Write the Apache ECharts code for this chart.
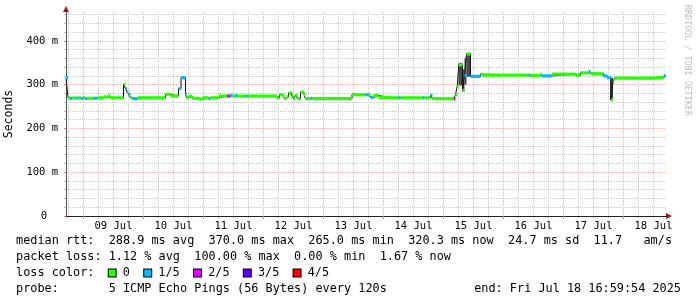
<!DOCTYPE html>
<html><head><meta charset="utf-8">
<script src="https://cdn.jsdelivr.net/npm/echarts@6/dist/echarts.min.js"></script>
<style>html,body{margin:0;padding:0;background:#fff}#c{width:697px;height:297px}</style>
</head><body><div id="c"></div>
<script>
// time axis: hours since 2025-07-08 00:00
const tStart = 17, tEnd = 257;
const dayLabels = ['09 Jul','10 Jul','11 Jul','12 Jul','13 Jul','14 Jul','15 Jul','16 Jul','17 Jul','18 Jul'];
const dayLabelHours = [36,60,84,108,132,156,180,204,228,252];
const midnightHours = [24,48,72,96,120,144,168,192,216,240];
const yTickValues = [0,100,200,300,400];
const yTickLabels = ['0','100 m','200 m','300 m','400 m'];
const yMax = 466;

// median rtt (ms) as step segments: start hour, value, loss level (0..4 of 5)
const segT = [17.0,17.8,18.6,19.6,20.8,21.6,22.8,24.0,24.8,25.6,28.0,29.6,32.0,34.0,34.6,35.2,37.6,38.0,
  40.0,40.8,41.4,42.0,42.8,43.6,45.6,56.8,58.8,62.0,63.0,64.8,65.2,66.2,67.4,70.4,71.6,74.0,74.8,78.0,
  81.4,82.8,83.6,84.8,85.6,88.8,89.6,101.2,102.4,103.8,104.4,105.2,106.0,107.2,108.0,108.8,109.6,110.8,
  112.2,112.8,114.8,115.6,131.4,132.0,136.8,138.0,138.8,140.0,142.0,146.8,150.0,150.8,159.6,160.4,162.8,
  163.6,172.0,172.8,173.5,174.1,175.6,176.4,177.2,178.8,182.8,183.6,202.0,202.8,206.8,207.4,211.4,220.8,
  222.8,226.0,226.8,232.0,233.4,235.0,235.8,236.4,252.8,256.0];
const segMed = [316,270,269,270,269,270,269,270,268,269,269,270,272,276,271,270,273,270,
  301,291,283,278,270,268,270,278,274,291,316,280,271,274,269,267,270,268,270,274,
  274,276,274,275,274,274,274,270,277,274,268,272,281,275,268,276,268,283,
  277,268,269,268,278,277,277,277,271,275,271,270,270,270,270,270,276,
  268,268,277,297,345,287,321,370,319,324,322,322,321,324,320,324,322,
  327,330,325,320,316,265,306,315,316,320];
const segLoss = [1,0,1,0,1,0,1,0,1,0,1,0,0,0,0,0,0,0,
  0,1,0,1,0,1,0,0,0,1,1,1,0,0,0,0,0,1,0,0,
  2,1,0,1,0,1,0,0,0,0,0,0,0,0,0,0,0,0,
  0,0,1,0,0,0,1,0,1,0,0,0,1,0,1,0,1,
  0,2,0,0,0,0,1,0,1,0,0,1,0,0,1,0,0,
  0,1,0,1,1,0,0,0,0,1];

// smoke (spread of the pings) for the noisy intervals
const smokeT0 = [174.0,175.6,176.4,177.2,234.6];
const smokeT1 = [175.6,176.4,177.2,178.8,235.8];
const smokeLo = [298,284,300,318,264];
const smokeHi = [350,335,360,372,316];

const lossColors = ['#26ff00','#00b8ff','#dd00ff','#5e00ff','#ff0000'];
const lossNames = ['0','1/5','2/5','3/5','4/5'];

const statLine1 = 'median rtt:  288.9 ms avg  370.0 ms max  265.0 ms min  320.3 ms now  24.7 ms sd  11.7   am/s';
const statLine2 = 'packet loss: 1.12 % avg  100.00 % max  0.00 % min  1.67 % now';
const probeLine = 'probe:       5 ICMP Echo Pings (56 Bytes) every 120s';
const endLine = 'end: Fri Jul 18 16:59:54 2025';

const FONT = 'DejaVu Sans Mono';
const FS = 11.85;
const minorX = []; for (let h = 18; h < tEnd; h += 6) if (h % 24 !== 0) minorX.push(h);
const minorY = []; for (let v = 20; v < yMax; v += 20) if (v % 100 !== 0) minorY.push(v);

const bandData = segT.map((t, i) => [t, i + 1 < segT.length ? segT[i + 1] : tEnd, segMed[i], segLoss[i]]);
const stepData = [];
bandData.forEach(d => { stepData.push([d[0], d[2]]); stepData.push([d[1], d[2]]); });
const smokeData = smokeT0.map((t, i) => [t, smokeT1[i], smokeLo[i], smokeHi[i]]);

let lossRich = {}; let lossText = 'loss color:  ';
lossNames.forEach((n, i) => {
  lossRich['s' + i] = {width: 7, height: 7, backgroundColor: lossColors[i], borderColor: '#000', borderWidth: 1};
  lossText += '{s' + i + '| }{t| ' + n + '  }';
});
lossRich.t = {fontFamily: FONT, fontSize: FS, fill: '#000', color: '#000'};

const chart = echarts.init(document.getElementById('c'), null, {renderer: 'canvas'});
chart.setOption({
  backgroundColor: '#fff',
  animation: false,
  grid: {left: 66, right: 31, top: 12, bottom: 81, containLabel: false, outerBoundsMode: 'none'},
  xAxis: [
    {type: 'value', min: tStart, max: tEnd, position: 'bottom', z: 1,
     axisLine: {show: true, onZero: false, lineStyle: {color: '#222', width: 1}},
     axisTick: {show: true, customValues: midnightHours, length: 3, lineStyle: {color: '#e08080'}},
     axisLabel: {show: true, customValues: dayLabelHours, margin: 5, fontFamily: FONT, fontSize: 10.5, color: '#000',
       formatter: v => dayLabels[dayLabelHours.indexOf(Math.round(v))]},
     splitLine: {show: true, lineStyle: {color: '#eeb4b4', type: [1, 1], width: 1}}},
    {type: 'value', min: tStart, max: tEnd, position: 'bottom', z: 0,
     axisLine: {show: true, onZero: false, symbol: ['none', 'triangle'], symbolSize: [6, 6], symbolOffset: [0, 3],
       lineStyle: {color: '#9a1a1a'}},
     axisTick: {show: true, customValues: minorX, length: 2, lineStyle: {color: '#bbb'}},
     axisLabel: {show: false},
     splitLine: {show: true, lineStyle: {color: '#c8c8c8', type: [1, 1], width: 1}}}
  ],
  yAxis: [
    {type: 'value', min: 0, max: yMax, position: 'left', z: 1,
     name: 'Seconds', nameLocation: 'middle', nameRotate: 90, nameGap: 50,
     nameTextStyle: {fontFamily: FONT, fontSize: 11.5, color: '#000'},
     axisLine: {show: true, onZero: false, lineStyle: {color: '#555', width: 1}},
     axisTick: {show: true, customValues: yTickValues, length: 2, lineStyle: {color: '#e08080'}},
     axisLabel: {show: true, customValues: yTickValues, margin: 8, fontFamily: FONT, fontSize: 10.5, color: '#000',
       formatter: v => v === 0 ? '{z|0}' : yTickLabels[yTickValues.indexOf(Math.round(v))],
       rich: {z: {fontFamily: FONT, fontSize: 10.5, color: '#000', padding: [0, 11, 0, 0]}}},
     splitLine: {show: true, lineStyle: {color: '#eeb4b4', type: [1, 1], width: 1}}},
    {type: 'value', min: 0, max: yMax, position: 'left', z: 0,
     axisLine: {show: true, onZero: false, symbol: ['none', 'triangle'], symbolSize: [6, 6], symbolOffset: [0, 3],
       lineStyle: {color: '#9a1a1a'}},
     axisTick: {show: true, customValues: minorY, length: 2, lineStyle: {color: '#bbb'}},
     axisLabel: {show: false},
     splitLine: {show: true, lineStyle: {color: '#c8c8c8', type: [1, 1], width: 1}}}
  ],
  series: [
    {type: 'custom', name: 'smoke', xAxisIndex: 0, yAxisIndex: 0, data: smokeData, z: 2,
     encode: {x: [0, 1], y: [2, 3]},
     renderItem: (params, api) => {
       const a = api.coord([api.value(0), api.value(3)]);
       const b = api.coord([api.value(1), api.value(2)]);
       return {type: 'rect', shape: {x: a[0], y: a[1], width: b[0] - a[0], height: b[1] - a[1]}, style: {fill: '#4a4a4a'}};
     }},
    {type: 'line', name: 'median-step', xAxisIndex: 0, yAxisIndex: 0, data: stepData, z: 3,
     symbol: 'none', lineStyle: {color: '#111', width: 1}},
    {type: 'custom', name: 'median', xAxisIndex: 0, yAxisIndex: 0, data: bandData, z: 4,
     encode: {x: [0, 1], y: 2},
     renderItem: (params, api) => {
       const a = api.coord([api.value(0), api.value(2)]);
       const b = api.coord([api.value(1), api.value(2)]);
       return {type: 'rect', shape: {x: a[0], y: a[1] - 1.6, width: b[0] - a[0], height: 3.2},
               style: {fill: lossColors[api.value(3)]}};
     }}
  ],
  graphic: [
    {type: 'text', x: 16, y: 241, style: {text: statLine1, fontFamily: FONT, fontSize: FS, fill: '#000', verticalAlign: 'middle'}},
    {type: 'text', x: 16, y: 257, style: {text: statLine2, fontFamily: FONT, fontSize: FS, fill: '#000', verticalAlign: 'middle'}},
    {type: 'text', x: 16, y: 273, style: {text: lossText, rich: lossRich, fontFamily: FONT, fontSize: FS, fill: '#000', verticalAlign: 'middle'}},
    {type: 'text', x: 16, y: 289, style: {text: probeLine, fontFamily: FONT, fontSize: FS, fill: '#000', verticalAlign: 'middle'}},
    {type: 'text', x: 681, y: 289, style: {text: endLine, fontFamily: FONT, fontSize: FS, fill: '#000', align: 'right', verticalAlign: 'middle'}},
    {type: 'text', x: 687.5, y: 5, rotation: -Math.PI / 2,
     style: {text: 'RRDTOOL / TOBI OETIKER', fontFamily: FONT, fontSize: 8.4, fill: '#c0c0c0', align: 'left', verticalAlign: 'middle'}}
  ]
});
</script></body></html>
